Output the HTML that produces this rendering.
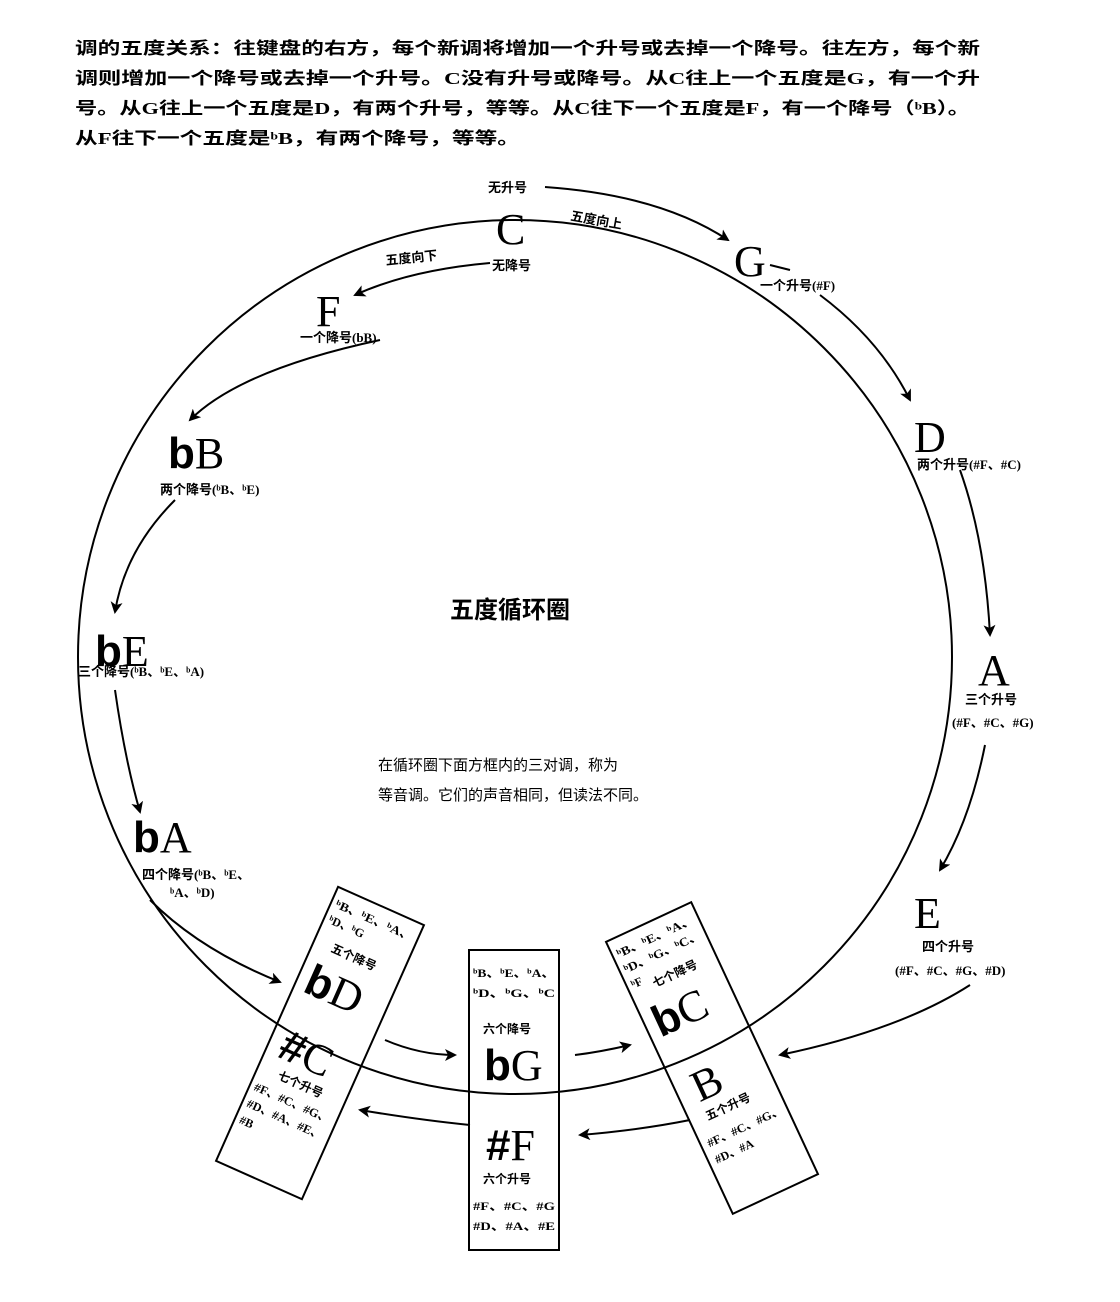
<!DOCTYPE html>
<html><head><meta charset="utf-8"><style>
html,body{margin:0;padding:0;background:#fff;}
svg{display:block;}
text{font-family:"Liberation Serif","Noto Serif CJK SC","Noto Sans CJK SC",serif;fill:#000;}
.h{font-size:17px;font-weight:bold;font-family:"Liberation Serif","Noto Sans CJK SC",sans-serif;}
.s{font-size:13px;font-weight:bold;font-family:"Liberation Serif","Noto Sans CJK SC",sans-serif;}
.t{font-size:12px;font-weight:bold;font-family:"Liberation Serif","Noto Sans CJK SC",sans-serif;}
.b{font-size:44px;}
.fl{font-family:"Liberation Sans",sans-serif;font-weight:bold;}
.m{font-size:15px;font-family:"Liberation Serif","Noto Sans CJK SC",sans-serif;}
</style></head><body>
<svg width="1120" height="1302" viewBox="0 0 1120 1302" xmlns="http://www.w3.org/2000/svg">
<defs><marker id="a" markerWidth="12" markerHeight="12" refX="10" refY="6" orient="auto" markerUnits="userSpaceOnUse"><path d="M0,0 L12,6 L0,12 L3,6z" fill="#000"/></marker></defs>
<text class="h" x="75" y="54" textLength="905" lengthAdjust="spacingAndGlyphs">调的五度关系：往键盘的右方，每个新调将增加一个升号或去掉一个降号。往左方，每个新</text>
<text class="h" x="75" y="84" textLength="905" lengthAdjust="spacingAndGlyphs">调则增加一个降号或去掉一个升号。C没有升号或降号。从C往上一个五度是G，有一个升</text>
<text class="h" x="75" y="114" textLength="895" lengthAdjust="spacingAndGlyphs">号。从G往上一个五度是D，有两个升号，等等。从C往下一个五度是F，有一个降号（ᵇB）。</text>
<text class="h" x="75" y="144" textLength="445" lengthAdjust="spacingAndGlyphs">从F往下一个五度是ᵇB，有两个降号，等等。</text>

<circle cx="515" cy="657" r="437" fill="none" stroke="#000" stroke-width="2"/>

<g fill="none" stroke="#000" stroke-width="2" marker-end="url(#a)">
<path d="M545,187 Q660,195 728,240"/>
<path d="M490,263 Q410,270 355,295"/>
<path d="M820,295 Q880,340 910,400"/>
<path d="M960,470 Q985,540 990,635"/>
<path d="M985,745 Q970,820 940,870"/>
<path d="M970,985 Q900,1030 780,1055"/>
<path d="M380,340 Q240,370 190,420"/>
<path d="M175,500 Q125,550 115,612"/>
<path d="M115,690 Q125,760 140,812"/>
<path d="M150,900 Q200,950 280,982"/>
<path d="M385,1040 Q420,1055 455,1055"/>
<path d="M575,1055 Q600,1052 630,1045"/>
<path d="M470,1125 Q420,1120 360,1110"/>
<path d="M690,1120 Q640,1130 580,1135"/>
</g>
<path d="M770,265 L790,270" stroke="#000" stroke-width="2"/>

<text class="s" x="488" y="192">无升号</text>
<text class="s" x="570" y="220" transform="rotate(10 570 220)">五度向上</text>
<text class="b" x="496" y="244">C</text>
<text class="s" x="386" y="265" transform="rotate(-6 386 265)">五度向下</text>
<text class="s" x="492" y="270">无降号</text>
<text class="b" x="734" y="276">G</text>
<text class="s" x="760" y="290">一个升号(#F)</text>
<text class="b" x="316" y="326">F</text>
<text class="s" x="300" y="342">一个降号(bB)</text>
<text class="b" x="168" y="468"><tspan class="fl">b</tspan>B</text>
<text class="s" x="160" y="494">两个降号(ᵇB、ᵇE)</text>
<text class="b" x="95" y="666"><tspan class="fl">b</tspan>E</text>
<text class="s" x="78" y="676">三个降号(ᵇB、ᵇE、ᵇA)</text>
<text class="b" x="133" y="852"><tspan class="fl">b</tspan>A</text>
<text class="s" x="142" y="879">四个降号(ᵇB、ᵇE、</text>
<text class="s" x="170" y="897">ᵇA、ᵇD)</text>
<text class="b" x="914" y="452">D</text>
<text class="s" x="917" y="469">两个升号(#F、#C)</text>
<text class="b" x="978" y="685">A</text>
<text class="s" x="965" y="704">三个升号</text>
<text class="s" x="952" y="727">(#F、#C、#G)</text>
<text class="b" x="914" y="928">E</text>
<text class="s" x="922" y="951">四个升号</text>
<text class="s" x="895" y="975">(#F、#C、#G、#D)</text>

<text x="450" y="618" style="font-size:24px;font-weight:bold;font-family:'Noto Sans CJK SC',sans-serif">五度循环圈</text>
<text class="m" x="378" y="770">在循环圈下面方框内的三对调，称为</text>
<text class="m" x="378" y="800">等音调。它们的声音相同，但读法不同。</text>

<!-- left box -->
<g transform="translate(320 1043) rotate(24)">
<rect x="-47" y="-150" width="94" height="300" fill="none" stroke="#000" stroke-width="2"/>
<text class="t" x="-42" y="-130" textLength="84" lengthAdjust="spacingAndGlyphs">ᵇB、ᵇE、ᵇA、</text>
<text class="t" x="-42" y="-113">ᵇD、ᵇG</text>
<text class="t" x="-28" y="-88">五个降号</text>
<text class="b" x="-38" y="-40"><tspan class="fl">b</tspan>D</text>
<text class="b" x="-35" y="30"><tspan class="fl">#</tspan>C</text>
<text class="t" x="-25" y="50">七个升号</text>
<text class="t" x="-42" y="70" textLength="82" lengthAdjust="spacingAndGlyphs">#F、#C、#G、</text>
<text class="t" x="-42" y="88" textLength="82" lengthAdjust="spacingAndGlyphs">#D、#A、#E、</text>
<text class="t" x="-42" y="106">#B</text>
</g>
<!-- middle box -->
<rect x="469" y="950" width="90" height="300" fill="none" stroke="#000" stroke-width="2"/>
<text class="t" x="473" y="977" textLength="82" lengthAdjust="spacingAndGlyphs">ᵇB、ᵇE、ᵇA、</text>
<text class="t" x="473" y="997" textLength="82" lengthAdjust="spacingAndGlyphs">ᵇD、ᵇG、ᵇC</text>
<text class="t" x="483" y="1033">六个降号</text>
<text class="b" x="484" y="1080"><tspan class="fl">b</tspan>G</text>
<text class="b" x="486" y="1160"><tspan class="fl">#</tspan>F</text>
<text class="t" x="483" y="1183">六个升号</text>
<text class="t" x="473" y="1210" textLength="82" lengthAdjust="spacingAndGlyphs">#F、#C、#G</text>
<text class="t" x="473" y="1230" textLength="82" lengthAdjust="spacingAndGlyphs">#D、#A、#E</text>
<!-- right box -->
<g transform="translate(712 1058) rotate(-25)">
<rect x="-47" y="-150" width="94" height="300" fill="none" stroke="#000" stroke-width="2"/>
<text class="t" x="-42" y="-130" textLength="84" lengthAdjust="spacingAndGlyphs">ᵇB、ᵇE、ᵇA、</text>
<text class="t" x="-42" y="-113" textLength="84" lengthAdjust="spacingAndGlyphs">ᵇD、ᵇG、ᵇC、</text>
<text class="t" x="-42" y="-96">ᵇF</text>
<text class="t" x="-22" y="-88">七个降号</text>
<text class="b" x="-38" y="-40"><tspan class="fl">b</tspan>C</text>
<text class="b" x="-30" y="35">B</text>
<text class="t" x="-30" y="55">五个升号</text>
<text class="t" x="-40" y="80" textLength="82" lengthAdjust="spacingAndGlyphs">#F、#C、#G、</text>
<text class="t" x="-40" y="98">#D、#A</text>
</g>
</svg>
</body></html>
